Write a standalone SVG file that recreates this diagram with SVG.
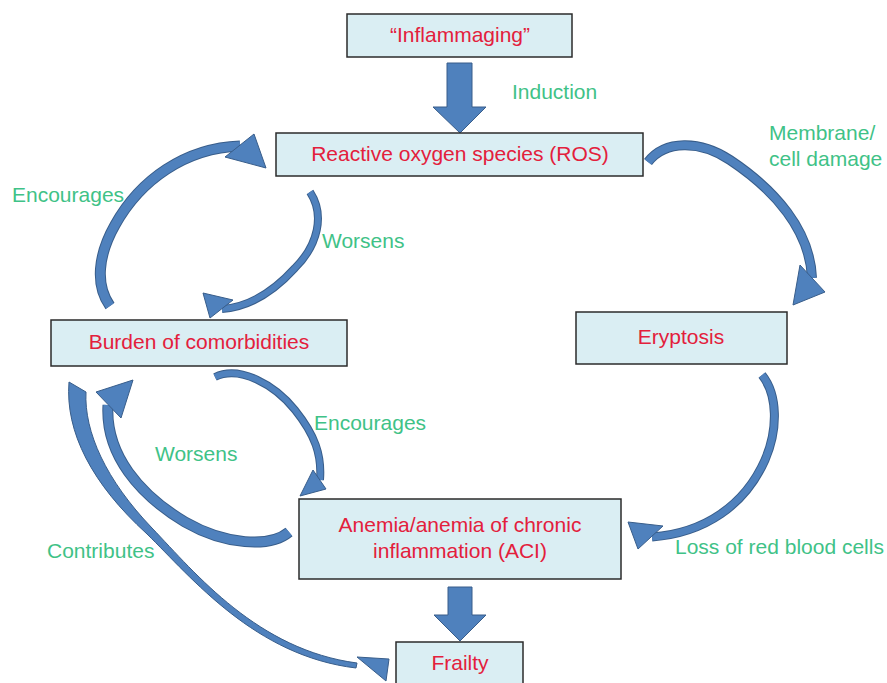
<svg xmlns="http://www.w3.org/2000/svg" width="887" height="683" viewBox="0 0 887 683">
<style>
.box{fill:#daeef3;stroke:#2b2b2b;stroke-width:1.5}
.nt{font-family:"Liberation Sans",Arial,sans-serif;font-size:21px;fill:#e3203c;text-anchor:middle}
.lb{font-family:"Liberation Sans",Arial,sans-serif;font-size:21px;fill:#3fc287}
.ol{fill:none;stroke:#385d8a;stroke-linecap:butt}
.in{fill:none;stroke:#4f81bd;stroke-linecap:butt}
.hd{fill:#4f81bd;stroke:#385d8a;stroke-width:1;stroke-linejoin:miter}
</style>
<rect width="887" height="683" fill="#ffffff"/>
<g id="connectors">
  <!-- Inflammaging -> ROS block arrow -->
  <polygon class="hd" points="447,63 472,63 472,107 486,107 460,133 433,107 447,107"/>
  <!-- Anemia -> Frailty block arrow -->
  <polygon class="hd" points="448,587 472,587 472,615 486,615 460,641 434,615 448,615"/>
  <!-- A: Burden -> ROS (Encourages) -->
  <path class="ol" stroke-width="11" d="M 110,306 C 95,285 98,255 115,225 C 140,180 185,148 240,146"/>
  <path class="in" stroke-width="9" d="M 110,306 C 95,285 98,255 115,225 C 140,180 185,148 240,146"/>
  <polygon class="hd" points="254,134 266,168 225,157"/>
  <!-- B: ROS -> Burden (Worsens) -->
  <path class="ol" stroke-width="8" d="M 310,192 C 325,215 318,245 295,268 C 275,290 250,307 222,309"/>
  <path class="in" stroke-width="6" d="M 310,192 C 325,215 318,245 295,268 C 275,290 250,307 222,309"/>
  <polygon class="hd" points="203,293 233,300 210,318"/>
  <!-- C: ROS -> Eryptosis (Membrane/cell damage) -->
  <path class="ol" stroke-width="10" d="M 648,162 C 665,140 700,140 730,160 C 775,190 810,230 812,278"/>
  <path class="in" stroke-width="8" d="M 648,162 C 665,140 700,140 730,160 C 775,190 810,230 812,278"/>
  <polygon class="hd" points="800,265 825,292 793,305"/>
  <!-- D: Burden -> Anemia (Encourages) -->
  <path class="ol" stroke-width="8" d="M 215,377 C 240,365 275,385 295,410 C 315,435 322,455 320,480"/>
  <path class="in" stroke-width="6" d="M 215,377 C 240,365 275,385 295,410 C 315,435 322,455 320,480"/>
  <polygon class="hd" points="313,470 326,489 300,496"/>
  <!-- E: Anemia -> Burden (Worsens) -->
  <path class="ol" stroke-width="11" d="M 289,532 C 270,548 225,545 185,522 C 140,495 105,455 108,405"/>
  <path class="in" stroke-width="9" d="M 289,532 C 270,548 225,545 185,522 C 140,495 105,455 108,405"/>
  <polygon class="hd" points="96,392 133,380 121,418"/>
  <!-- F: Burden -> Frailty (Contributes) -->
  <path class="hd" d="M 69,382 C 65,432 92,484 147,534 C 192,578 255,656 356,668 L 357,663 C 258,650 196,574 152,528 C 106,480 84,432 86,392 Z"/>
  <polygon class="hd" points="357,657 389,659 386,681"/>
  <!-- G: Eryptosis -> Anemia (Loss of red blood cells) -->
  <path class="ol" stroke-width="9" d="M 762,375 C 778,395 778,430 765,460 C 745,505 705,533 652,537"/>
  <path class="in" stroke-width="7" d="M 762,375 C 778,395 778,430 765,460 C 745,505 705,533 652,537"/>
  <polygon class="hd" points="628,522 663,526 638,549"/>
</g>
<g id="labels">
  <text class="lb" x="512" y="99">Induction</text>
  <text class="lb" x="769" y="140">Membrane/</text>
  <text class="lb" x="769" y="166">cell damage</text>
  <text class="lb" x="12" y="202">Encourages</text>
  <text class="lb" x="322" y="248">Worsens</text>
  <text class="lb" x="314" y="430">Encourages</text>
  <text class="lb" x="155" y="461">Worsens</text>
  <text class="lb" x="47" y="558">Contributes</text>
  <text class="lb" x="675" y="554">Loss of red blood cells</text>
</g>
<g id="node-inflammaging">
  <rect class="box" x="347" y="14" width="225" height="43"/>
  <text class="nt" x="460" y="42">“Inflammaging”</text>
</g>
<g id="node-ros">
  <rect class="box" x="276" y="133" width="367" height="43"/>
  <text class="nt" x="460" y="161">Reactive oxygen species (ROS)</text>
</g>
<g id="node-burden">
  <rect class="box" x="51" y="320" width="296" height="46"/>
  <text class="nt" x="199" y="349">Burden of comorbidities</text>
</g>
<g id="node-eryptosis">
  <rect class="box" x="576" y="312" width="211" height="52"/>
  <text class="nt" x="681" y="344">Eryptosis</text>
</g>
<g id="node-anemia">
  <rect class="box" x="299" y="499" width="322" height="80"/>
  <text class="nt" x="460" y="532">Anemia/anemia of chronic</text>
  <text class="nt" x="460" y="558">inflammation (ACI)</text>
</g>
<g id="node-frailty">
  <rect class="box" x="396" y="642" width="127" height="50"/>
  <text class="nt" x="460" y="670">Frailty</text>
</g>
</svg>
